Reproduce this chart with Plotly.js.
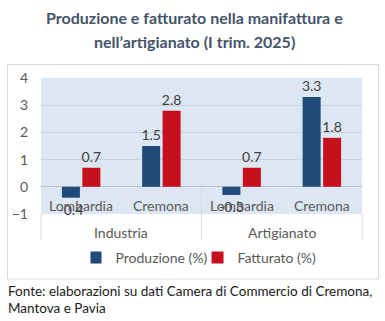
<!DOCTYPE html>
<html>
<head>
<meta charset="utf-8">
<script src="https://cdn.plot.ly/plotly-3.0.1.min.js"></script>
<style>html,body{margin:0;padding:0;background:#fff;}#chart{width:385px;height:321px;}</style>
</head>
<body>
<div id="chart"></div>
<script>
// ---- data ----
const groups = ["Industria", "Industria", "Artigianato", "Artigianato"];
const cities = ["Lombardia", "Cremona", "Lombardia", "Cremona"];
const produzione = [-0.4, 1.5, -0.3, 3.3];
const fatturato = [0.7, 2.8, 0.7, 1.8];
const seriesNames = ["Produzione (%)", "Fatturato (%)"];
const titleLines = ["Produzione e fatturato nella manifattura e", "nell\u2019artigianato (I trim. 2025)"];
const sourceLines = ["Fonte: elaborazioni su dati Camera di Commercio di Cremona,", "Mantova e Pavia"];

// ---- layout geometry (px) ----
const W = 385, H = 321, L = 41, R = 23, T = 78, B = 107;
const pw = W - L - R, ph = H - T - B;
const px = v => (v - L) / pw;           // pixel x -> paper x
const py = v => (H - B - v) / ph;       // pixel y -> paper y

const FONT = "Lato, 'Noto Sans', sans-serif";
const GREY = "#595959";
const BLUE = "#1F4A7A", RED = "#C5111E";

function barTrace(name, vals, color) {
  return {
    type: "bar", name: name,
    x: [groups, cities], y: vals,
    marker: {color: color},
    text: vals.map(v => v.toFixed(1)),
    textposition: "outside",
    constraintext: "none",
    cliponaxis: false,
    textfont: {family: FONT, size: 14, color: "#404040"},
    hoverinfo: "skip"
  };
}

const data = [barTrace(seriesNames[0], produzione, BLUE), barTrace(seriesNames[1], fatturato, RED)];

const annotations = [];
titleLines.forEach((t, i) => annotations.push({
  text: "<b>" + t + "</b>", xref: "paper", yref: "paper", x: px(194), y: py(i === 0 ? 17 : 41),
  xanchor: "center", yanchor: "middle", showarrow: false,
  font: {family: FONT, size: 16, color: "#44546A"}
}));
cities.forEach((c, i) => annotations.push({
  text: c, xref: "x", yref: "paper", x: i, y: py(205), xanchor: "center", yanchor: "middle",
  showarrow: false, font: {family: FONT, size: 14, color: GREY}
}));
[...new Set(groups)].forEach(g => {
  const idx = groups.map((v, i) => v === g ? i : -1).filter(i => i >= 0);
  const mid = (idx[0] + idx[idx.length - 1]) / 2;
  annotations.push({
    text: g, xref: "x", yref: "paper", x: mid, y: py(232), xanchor: "center", yanchor: "middle",
    showarrow: false, font: {family: FONT, size: 14, color: GREY}
  });
});
sourceLines.forEach((t, i) => annotations.push({
  text: t, xref: "paper", yref: "paper", x: px(6), y: py(i === 0 ? 291 : 308),
  xanchor: "left", yanchor: "middle", showarrow: false,
  font: {family: FONT, size: 13.5, color: "#1a1a1a"}
}));

const lineStyle = {color: "#d9d9d9", width: 1};
const shapes = [
  {type: "rect", xref: "paper", yref: "paper", x0: px(7.5), x1: px(378.5), y0: py(64.5), y1: py(279), line: lineStyle, fillcolor: "rgba(0,0,0,0)", layer: "below"},
  {type: "line", xref: "paper", yref: "paper", x0: 0, x1: 0, y0: 0, y1: py(240), line: lineStyle},
  {type: "line", xref: "paper", yref: "paper", x0: 1, x1: 1, y0: 0, y1: py(240), line: lineStyle},
  {type: "line", xref: "paper", yref: "paper", x0: 0.5, x1: 0.5, y0: 0.2, y1: py(240), line: lineStyle}
];

const layout = {
  width: W, height: H,
  margin: {l: L, r: R, t: T, b: B, pad: 0},
  paper_bgcolor: "#ffffff", plot_bgcolor: "#DDE7F3",
  font: {family: FONT, color: GREY},
  barmode: "group", bargap: 0.49, bargroupgap: 0.12,
  showlegend: true,
  legend: {orientation: "h", x: px(206), xanchor: "center", y: py(258), yanchor: "middle",
           indentation: -15, entrywidth: 0,
           font: {family: FONT, size: 14, color: GREY}, bgcolor: "rgba(0,0,0,0)"},
  xaxis: {type: "multicategory", showticklabels: false, showgrid: false, showdividers: false,
          showline: false, zeroline: false, ticks: ""},
  yaxis: {range: [-1, 4], dtick: 1, showgrid: true, gridcolor: "#C9D1DB", gridwidth: 1,
          zeroline: true, zerolinecolor: "#BFBFBF", zerolinewidth: 1, showline: false,
          ticks: "", ticklabelstandoff: 12, tickfont: {family: FONT, size: 14, color: GREY}},
  annotations: annotations,
  shapes: shapes
};

Plotly.newPlot("chart", data, layout, {staticPlot: true, displayModeBar: false});
</script>
</body>
</html>
